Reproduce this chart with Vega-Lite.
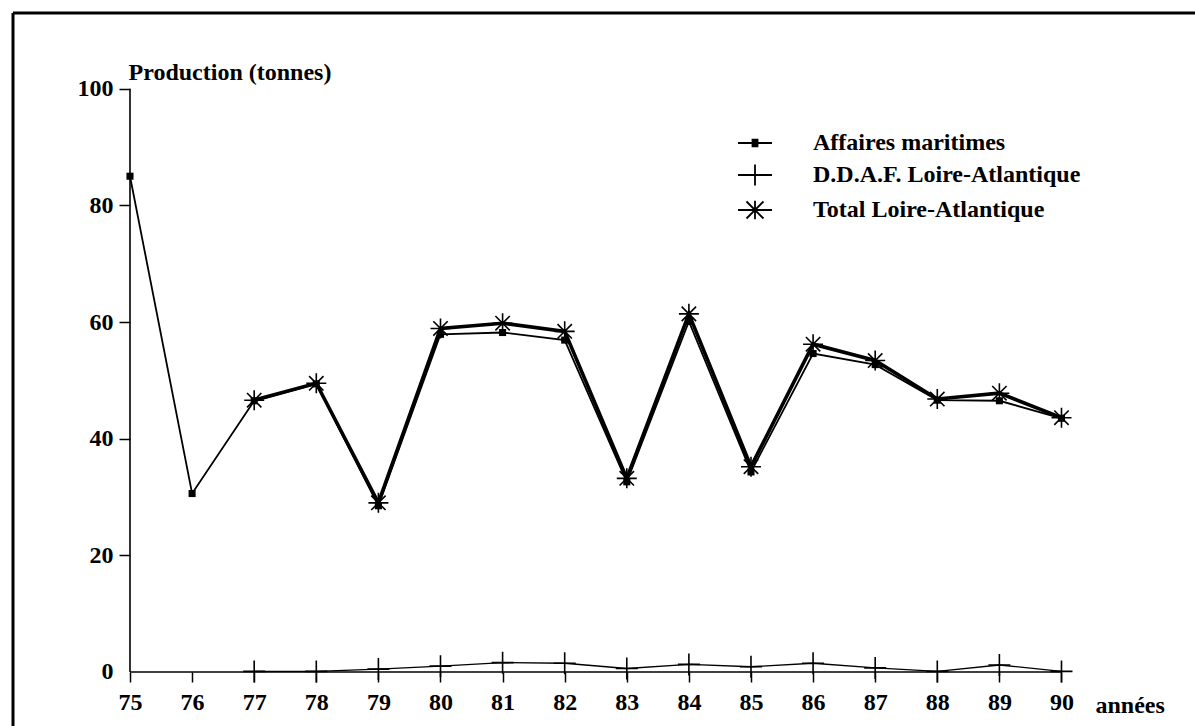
{
  "$schema": "https://vega.github.io/schema/vega-lite/v6.json",
  "width": 1182,
  "height": 713,
  "autosize": {"type": "none"},
  "padding": {"left": 13, "top": 13, "right": 0, "bottom": 0},
  "background": "white",
  "config": {
    "view": {"stroke": null},
    "font": "Liberation Serif",
    "axis": {
      "domain": false,
      "grid": false,
      "labelFont": "Liberation Serif",
      "labelFontWeight": "bold",
      "labelFontSize": 24,
      "labelColor": "black",
      "tickColor": "black",
      "tickWidth": 1.5,
      "titleFont": "Liberation Serif",
      "titleFontWeight": "bold",
      "titleFontSize": 24,
      "titleColor": "black"
    }
  },
  "data": {
    "values": [
      {"year": 75, "series": "Affaires maritimes", "value": 85.0},
      {"year": 76, "series": "Affaires maritimes", "value": 30.6},
      {"year": 77, "series": "Affaires maritimes", "value": 46.5},
      {"year": 78, "series": "Affaires maritimes", "value": 49.4},
      {"year": 79, "series": "Affaires maritimes", "value": 28.5},
      {"year": 80, "series": "Affaires maritimes", "value": 57.9},
      {"year": 81, "series": "Affaires maritimes", "value": 58.2},
      {"year": 82, "series": "Affaires maritimes", "value": 56.9},
      {"year": 83, "series": "Affaires maritimes", "value": 32.6},
      {"year": 84, "series": "Affaires maritimes", "value": 60.1},
      {"year": 85, "series": "Affaires maritimes", "value": 34.3},
      {"year": 86, "series": "Affaires maritimes", "value": 54.6},
      {"year": 87, "series": "Affaires maritimes", "value": 52.7},
      {"year": 88, "series": "Affaires maritimes", "value": 46.6},
      {"year": 89, "series": "Affaires maritimes", "value": 46.5},
      {"year": 90, "series": "Affaires maritimes", "value": 43.5},
      {"year": 77, "series": "D.D.A.F. Loire-Atlantique", "value": 0.1},
      {"year": 78, "series": "D.D.A.F. Loire-Atlantique", "value": 0.1},
      {"year": 79, "series": "D.D.A.F. Loire-Atlantique", "value": 0.5},
      {"year": 80, "series": "D.D.A.F. Loire-Atlantique", "value": 1.0},
      {"year": 81, "series": "D.D.A.F. Loire-Atlantique", "value": 1.6},
      {"year": 82, "series": "D.D.A.F. Loire-Atlantique", "value": 1.5},
      {"year": 83, "series": "D.D.A.F. Loire-Atlantique", "value": 0.6},
      {"year": 84, "series": "D.D.A.F. Loire-Atlantique", "value": 1.3},
      {"year": 85, "series": "D.D.A.F. Loire-Atlantique", "value": 0.9},
      {"year": 86, "series": "D.D.A.F. Loire-Atlantique", "value": 1.5},
      {"year": 87, "series": "D.D.A.F. Loire-Atlantique", "value": 0.7},
      {"year": 88, "series": "D.D.A.F. Loire-Atlantique", "value": 0.1},
      {"year": 89, "series": "D.D.A.F. Loire-Atlantique", "value": 1.2},
      {"year": 90, "series": "D.D.A.F. Loire-Atlantique", "value": 0.1},
      {"year": 77, "series": "Total Loire-Atlantique", "value": 46.6},
      {"year": 78, "series": "Total Loire-Atlantique", "value": 49.5},
      {"year": 79, "series": "Total Loire-Atlantique", "value": 29.0},
      {"year": 80, "series": "Total Loire-Atlantique", "value": 58.9},
      {"year": 81, "series": "Total Loire-Atlantique", "value": 59.8},
      {"year": 82, "series": "Total Loire-Atlantique", "value": 58.4},
      {"year": 83, "series": "Total Loire-Atlantique", "value": 33.2},
      {"year": 84, "series": "Total Loire-Atlantique", "value": 61.4},
      {"year": 85, "series": "Total Loire-Atlantique", "value": 35.2},
      {"year": 86, "series": "Total Loire-Atlantique", "value": 56.2},
      {"year": 87, "series": "Total Loire-Atlantique", "value": 53.4},
      {"year": 88, "series": "Total Loire-Atlantique", "value": 46.8},
      {"year": 89, "series": "Total Loire-Atlantique", "value": 47.8},
      {"year": 90, "series": "Total Loire-Atlantique", "value": 43.6}
    ]
  },
  "layer": [
    {
      "transform": [{"filter": "datum.series === 'D.D.A.F. Loire-Atlantique'"}],
      "mark": {"type": "line", "color": "black", "strokeWidth": 1.3},
      "encoding": {
        "x": {
          "field": "year",
          "type": "quantitative",
          "scale": {"domain": [73.116, 92.15], "nice": false, "zero": false},
          "axis": {
            "values": [75, 76, 77, 78, 79, 80, 81, 82, 83, 84, 85, 86, 87, 88, 89, 90],
            "format": "d",
            "tickSize": 10,
            "labelPadding": 8,
            "offset": -54,
            "labelFlush": false,
            "labelOverlap": false,
            "title": "années",
            "titleX": 1082,
            "titleY": 33,
            "titleAlign": "left",
            "titleBaseline": "middle",
            "titleAnchor": null
          }
        },
        "y": {
          "field": "value",
          "type": "quantitative",
          "scale": {"domain": [-9.258, 112.98], "nice": false, "zero": false},
          "axis": {
            "values": [0, 20, 40, 60, 80, 100],
            "tickSize": 11,
            "labelPadding": 6,
            "offset": -117,
            "labelFlush": false,
            "labelOverlap": false,
            "tickOpacity": {"condition": {"test": "datum.value === 0", "value": 0}, "value": 1},
            "title": "Production (tonnes)",
            "titleAngle": 0,
            "titleX": -2,
            "titleY": 59.5,
            "titleAlign": "left",
            "titleBaseline": "middle",
            "titleAnchor": null
          }
        }
      }
    },
    {
      "data": {"values": [{}]},
      "mark": {"type": "rule", "color": "black", "strokeWidth": 1.6},
      "encoding": {"x": {"datum": 75}, "y": {"datum": 0}, "y2": {"datum": 100}}
    },
    {
      "data": {"values": [{}]},
      "mark": {"type": "rule", "color": "black", "strokeWidth": 1.6},
      "encoding": {"x": {"datum": 75}, "x2": {"datum": 90}, "y": {"datum": 0}}
    },
    {
      "data": {"values": [{}]},
      "mark": {"type": "rule", "color": "black", "strokeWidth": 3},
      "encoding": {"x": {"datum": 73.116}}
    },
    {
      "data": {"values": [{}]},
      "mark": {"type": "rule", "color": "black", "strokeWidth": 3},
      "encoding": {"y": {"datum": 112.98}}
    },
    {
      "transform": [{"filter": "datum.series === 'D.D.A.F. Loire-Atlantique'"}],
      "mark": {"type": "point", "shape": "M-1,0L1,0M0,-1L0,1", "size": 484, "filled": false, "color": "black", "strokeWidth": 1.6, "opacity": 1},
      "encoding": {"x": {"field": "year", "type": "quantitative"}, "y": {"field": "value", "type": "quantitative"}}
    },
    {
      "transform": [{"filter": "datum.series === 'Affaires maritimes'"}],
      "mark": {"type": "line", "color": "black", "strokeWidth": 1.8},
      "encoding": {"x": {"field": "year", "type": "quantitative"}, "y": {"field": "value", "type": "quantitative"}}
    },
    {
      "transform": [{"filter": "datum.series === 'Affaires maritimes'"}],
      "mark": {"type": "point", "shape": "square", "size": 50, "filled": true, "color": "black", "opacity": 1},
      "encoding": {"x": {"field": "year", "type": "quantitative"}, "y": {"field": "value", "type": "quantitative"}}
    },
    {
      "transform": [{"filter": "datum.series === 'Total Loire-Atlantique'"}],
      "mark": {"type": "line", "color": "black", "strokeWidth": 3.6},
      "encoding": {"x": {"field": "year", "type": "quantitative"}, "y": {"field": "value", "type": "quantitative"}}
    },
    {
      "transform": [{"filter": "datum.series === 'Total Loire-Atlantique'"}],
      "mark": {"type": "point", "shape": "M-1,0L1,0M0,-1L0,1M-0.72,-0.72L0.72,0.72M-0.72,0.72L0.72,-0.72", "size": 400, "filled": false, "color": "black", "strokeWidth": 1.6, "opacity": 1},
      "encoding": {"x": {"field": "year", "type": "quantitative"}, "y": {"field": "value", "type": "quantitative"}}
    },
    {
      "mark": {"type": "point", "opacity": 0, "size": 1156, "filled": false, "color": "black", "strokeWidth": 1.8},
      "encoding": {
        "x": {"field": "year", "type": "quantitative"},
        "y": {"field": "value", "type": "quantitative"},
        "shape": {
          "field": "series",
          "type": "nominal",
          "scale": {
            "domain": ["Affaires maritimes", "D.D.A.F. Loire-Atlantique", "Total Loire-Atlantique"],
            "range": [
              "M-1,0L1,0M-0.2,-0.2L0.2,-0.2M-0.2,-0.12L0.2,-0.12M-0.2,-0.04L0.2,-0.04M-0.2,0.04L0.2,0.04M-0.2,0.12L0.2,0.12M-0.2,0.2L0.2,0.2",
              "M-1,0L1,0M0,-0.62L0,0.62",
              "M-1,0L1,0M0,-0.55L0,0.55M-0.5,-0.5L0.5,0.5M-0.5,0.5L0.5,-0.5"
            ]
          },
          "legend": {
            "orient": "none",
            "legendX": 724,
            "legendY": 112,
            "title": null,
            "symbolSize": 1156,
            "symbolStrokeWidth": 1.8,
            "symbolStrokeColor": "black",
            "symbolFillColor": "black",
            "symbolOpacity": 1,
            "labelFont": "Liberation Serif",
            "labelFontWeight": "bold",
            "labelFontSize": 24,
            "labelColor": "black",
            "labelOffset": 40,
            "labelLimit": 400,
            "rowPadding": 2
          }
        }
      }
    }
  ]
}
